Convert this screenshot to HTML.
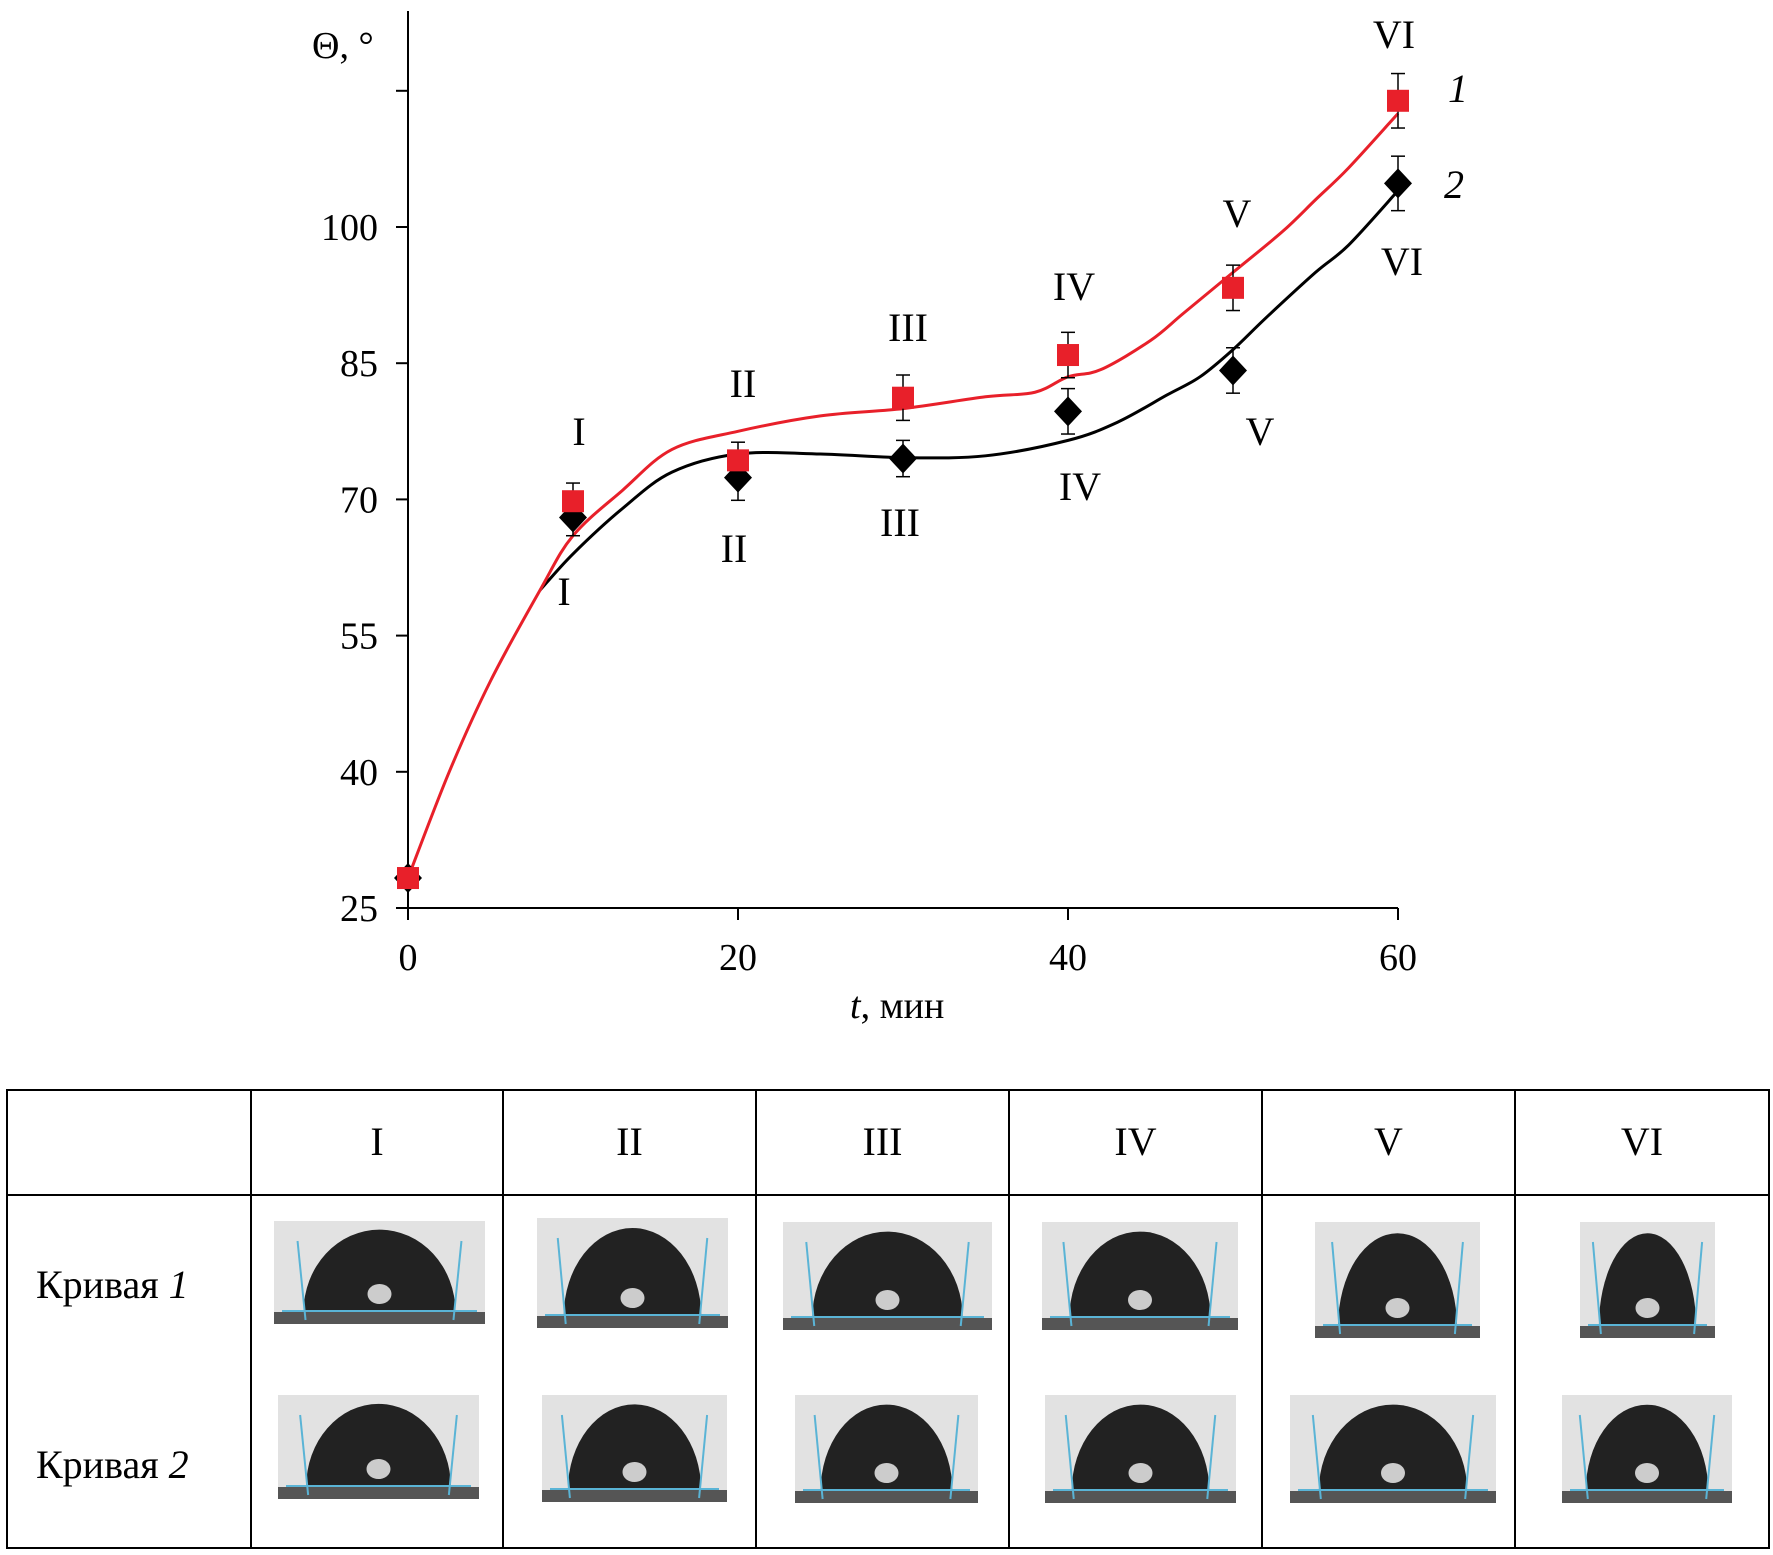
<!DOCTYPE html>
<html><head><meta charset="utf-8"><style>
body{margin:0;background:#fff;}
svg{display:block;font-family:"Liberation Serif","DejaVu Serif",serif;}
</style></head><body>
<svg width="1773" height="1555" viewBox="0 0 1773 1555">
<g id="chart"></g>
<g id="table"></g>
</svg>
<script>
const times=[0,10,20,30,40,50,60];
const series1=[28.3,69.8,74.3,81.2,85.9,93.3,113.9];
const series2=[28.3,68,72.4,74.5,79.7,84.2,104.8];
const err1=[0,2,2,2.5,2.5,2.5,3];
const err2=[0,2,2.5,2,2.5,2.5,3];
const fitT1=[0,2.5,5,8,10,13,16,20,25,30,35,38,40,42,45,47,50,53,55,57,60];
const fitY1=[28.3,40,50,60,66,71,75.5,77.5,79.2,80,81.3,81.8,83.5,84.3,87.5,90.5,95,99.5,103,106.5,112.5];
const fitT2=[8,10,13,16,20,25,30,35,40,43,46,48,50,52,55,57,60];
const fitY2=[60,64,69,73,75,75,74.6,74.8,76.5,78.5,81.5,83.5,86.5,90,95,98,104];
const yTicks=[25,40,55,70,85,100,115];
const xTicks=[0,20,40,60];
const romans=["I","II","III","IV","V","VI"];
const NS="http://www.w3.org/2000/svg";
const X=t=>408+t*16.5;
const Y=v=>908-(v-25)*9.08;
function el(tag,attrs,parent,text){const e=document.createElementNS(NS,tag);for(const k in attrs)e.setAttribute(k,attrs[k]);if(text!==undefined)e.textContent=text;parent.appendChild(e);return e;}
const g=document.getElementById('chart');
// axes
let a=el('line',{x1:408,y1:11,x2:408,y2:908,stroke:'#000','stroke-width':2},g);


a=el('line',{x1:408,y1:908,x2:1398,y2:908,stroke:'#000','stroke-width':2},g);


yTicks.forEach(v=>{
 el('line',{x1:396,y1:Y(v),x2:408,y2:Y(v),stroke:'#000','stroke-width':2},g);
 if(v<=100){const t=el('text',{x:378,y:Y(v)+13,'text-anchor':'end','font-size':38},g,String(v));
 
 }
});
xTicks.forEach(v=>{
 el('line',{x1:X(v),y1:908,x2:X(v),y2:920,stroke:'#000','stroke-width':2},g);
 const t=el('text',{x:X(v),y:970,'text-anchor':'middle','font-size':38},g,String(v));
 
 
});
let t=el('text',{x:312,y:58,'font-size':38},g,'Θ, °');


t=el('text',{x:850,y:1018,'font-size':38},g);


el('tspan',{'font-style':'italic'},t,'t');el('tspan',{},t,', мин');
function smooth(ts,ys){const p=ts.map((tt,i)=>[X(tt),Y(ys[i])]);let d=`M${p[0][0]},${p[0][1]}`;
 for(let i=0;i<p.length-1;i++){const p0=p[i-1]||p[i],p1=p[i],p2=p[i+1],p3=p[i+2]||p2;
 d+=` C${p1[0]+(p2[0]-p0[0])/6},${p1[1]+(p2[1]-p0[1])/6} ${p2[0]-(p3[0]-p1[0])/6},${p2[1]-(p3[1]-p1[1])/6} ${p2[0]},${p2[1]}`;}return d;}
let c=el('path',{d:smooth(fitT2,fitY2),fill:'none',stroke:'#000','stroke-width':3},g);


c=el('path',{d:smooth(fitT1,fitY1),fill:'none',stroke:'#e8202a','stroke-width':3},g);


function errbar(t0,v,e){if(!e)return;const x=X(t0);el('line',{x1:x,y1:Y(v+e),x2:x,y2:Y(v-e),stroke:'#000','stroke-width':1.5},g);
 el('line',{x1:x-7,y1:Y(v+e),x2:x+7,y2:Y(v+e),stroke:'#000','stroke-width':1.5},g);el('line',{x1:x-7,y1:Y(v-e),x2:x+7,y2:Y(v-e),stroke:'#000','stroke-width':1.5},g);}
times.forEach((tt,i)=>{errbar(tt,series2[i],err2[i]);const x=X(tt),y=Y(series2[i]);
 const m=el('polygon',{points:`${x},${y-15} ${x+14},${y} ${x},${y+15} ${x-14},${y}`,fill:'#000'},g);
 
 });
times.forEach((tt,i)=>{errbar(tt,series1[i],err1[i]);const x=X(tt),y=Y(series1[i]);
 const m=el('rect',{x:x-11,y:y-11,width:22,height:22,fill:'#e8202a'},g);
 
 });
const lab1=[[579,445],[743,397],[908,341],[1074,300],[1237,227],[1394,48]];
const lab2=[[564,605],[734,562],[900,536],[1080,500],[1260,445],[1402,275]];
romans.forEach((r,i)=>{let l=el('text',{x:lab1[i][0],y:lab1[i][1],'text-anchor':'middle','font-size':40},g,r);
 
 
 l=el('text',{x:lab2[i][0],y:lab2[i][1],'text-anchor':'middle','font-size':40},g,r);
 
 });
t=el('text',{x:1448,y:102,'font-size':40,'font-style':'italic'},g,'1');


t=el('text',{x:1444,y:198,'font-size':40,'font-style':'italic'},g,'2');


// table
const tb=document.getElementById('table');
const cols=[7,251,503,756,1009,1262,1515,1769];
el('rect',{x:7,y:1090,width:1762,height:458,fill:'none',stroke:'#000','stroke-width':2},tb);
el('line',{x1:7,y1:1195,x2:1769,y2:1195,stroke:'#000','stroke-width':2},tb);
cols.slice(1,-1).forEach(x=>el('line',{x1:x,y1:1090,x2:x,y2:1548,stroke:'#000','stroke-width':2},tb));
romans.forEach((r,i)=>{const h=el('text',{x:(cols[i+1]+cols[i+2])/2,y:1155,'text-anchor':'middle','font-size':40},tb,r);
 
 });
[['1',1298],['2',1478]].forEach(([n,y])=>{const l=el('text',{x:36,y:y,'font-size':40},tb);
 
 
 el('tspan',{},l,'Кривая ');el('tspan',{'font-style':'italic'},l,n);});
const imgs1=[[274,1221,211,103],[537,1218,191,110],[783,1222,209,108],[1042,1222,196,108],[1315,1222,165,116],[1580,1222,135,116]];
const imgs2=[[278,1395,201,104],[542,1395,185,107],[795,1395,183,108],[1045,1395,191,108],[1290,1395,206,108],[1562,1395,170,108]];
function drop(b,k){const [x,y,w,h]=b;const d=el('g',{},tb);
 
 
 el('rect',{x:x,y:y,width:w,height:h,fill:'#e2e2e2'},d);
 el('rect',{x:x,y:y+h-12,width:w,height:12,fill:'#555'},d);
 const cx=x+w/2,base=y+h-12,rw=w*0.36,rh=h*0.8;
 el('path',{d:`M${cx-rw},${base} A${rw},${rh} 0 0 1 ${cx+rw},${base} Z`,fill:'#222'},d);
 el('ellipse',{cx:cx,cy:base-18,rx:12,ry:10,fill:'#ccc'},d);
 el('line',{x1:x+8,y1:base-1,x2:x+w-8,y2:base-1,stroke:'#5ab4d6','stroke-width':2},d);
 el('line',{x1:cx-rw-6,y1:y+20,x2:cx-rw+2,y2:base+8,stroke:'#5ab4d6','stroke-width':2},d);
 el('line',{x1:cx+rw+6,y1:y+20,x2:cx+rw-2,y2:base+8,stroke:'#5ab4d6','stroke-width':2},d);}
imgs1.forEach(drop);imgs2.forEach(drop);
</script>
</body></html>
